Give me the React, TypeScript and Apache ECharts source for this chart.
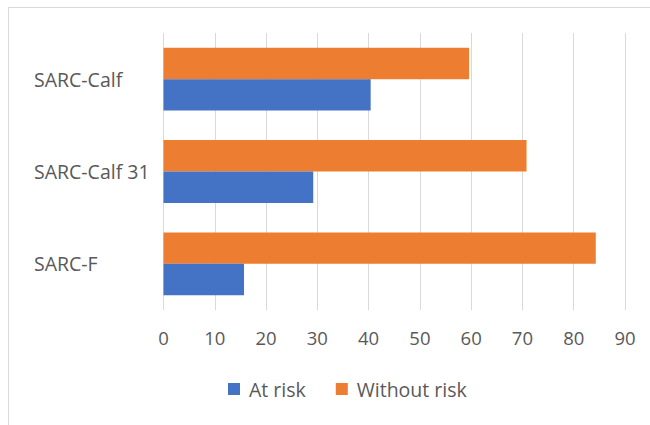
import React, { useEffect, useRef } from "react";
import * as echarts from "echarts";

const categories = ["SARC-Calf", "SARC-Calf 31", "SARC-F"];
const atRisk = [40.4, 29.2, 15.7];
const withoutRisk = [59.6, 70.8, 84.3];
const xTicks = { min: 0, max: 90, interval: 10 };

export default function App() {
  const ref = useRef<HTMLDivElement>(null);
  useEffect(() => {
    const chart = echarts.init(ref.current!, undefined, { renderer: "svg" });
    const font = "Open Sans";
    chart.setOption({
      animation: false,
      textStyle: { fontFamily: font },
      graphic: [
        {
          type: "polyline",
          shape: { points: [[8.5, 700], [8.5, 7.5], [800, 7.5]] },
          style: { stroke: "#d9d9d9", fill: "none", lineWidth: 1 },
          silent: true,
        },
      ],
      grid: { left: 163.5, right: 25, top: 33, bottom: 115, containLabel: false },
      legend: {
        data: ["At risk", "Without risk"],
        left: 228,
        top: 379,
        padding: 0,
        itemWidth: 12,
        itemHeight: 12,
        itemGap: 30,
        icon: "rect",
        textStyle: { color: "#595959", fontSize: 19.5, fontFamily: font, padding: [0, 0, 0, 4] },
      },
      xAxis: {
        type: "value",
        min: xTicks.min,
        max: xTicks.max,
        interval: xTicks.interval,
        axisLine: { show: false },
        axisTick: { show: false },
        splitLine: { show: true, lineStyle: { color: "#d9d9d9", width: 1 } },
        axisLabel: { color: "#595959", fontSize: 18.5, margin: 18, fontFamily: font },
      },
      yAxis: {
        type: "category",
        data: categories,
        inverse: true,
        axisLine: { show: false },
        axisTick: { show: false },
        axisLabel: { color: "#595959", fontSize: 19.5, align: "left", margin: 129.5, fontFamily: font },
      },
      series: [
        {
          name: "Without risk",
          type: "bar",
          data: withoutRisk,
          itemStyle: { color: "#ED7D31" },
          barGap: "0%",
          barCategoryGap: "32%",
        },
        {
          name: "At risk",
          type: "bar",
          data: atRisk,
          itemStyle: { color: "#4472C4" },
          barGap: "0%",
          barCategoryGap: "32%",
        },
      ],
    });
    return () => chart.dispose();
  }, []);
  return (
    <div
      ref={ref}
      style={{ position: "fixed", left: 0, top: 0, width: 650, height: 425, background: "#fff" }}
    />
  );
}
